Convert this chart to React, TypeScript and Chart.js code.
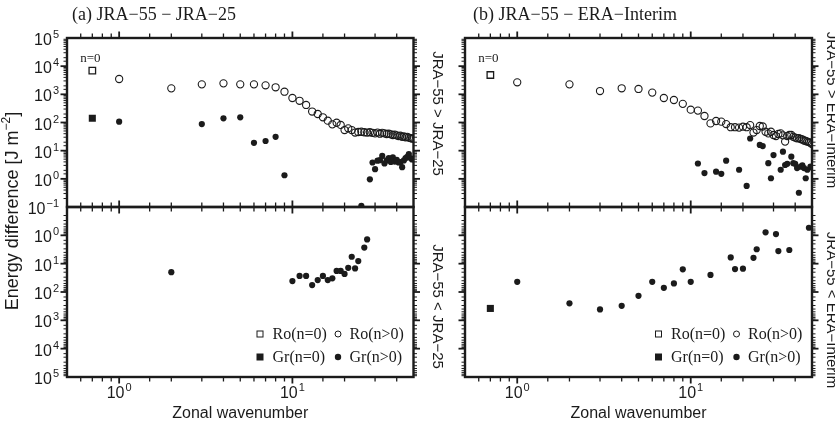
import React, { useEffect, useRef } from 'react';
import { Chart, registerables } from 'chart.js';

Chart.register(...registerables);

// ---------------- data ----------------
const WAVENUMBERS = [
  1, 2, 3, 4, 5, 6, 7, 8, 9, 10,
  11, 12, 13, 14, 15, 16, 17, 18, 19, 20,
  21, 22, 23, 24, 25, 26, 27, 28, 29, 30,
  31, 32, 33, 34, 35, 36, 37, 38, 39, 40,
  41, 42, 43, 44, 45, 46, 47, 48, 49, 50,
];
// position used for the zonal-mean (n=0) column
const N0_X = 0.7;

// (a) JRA-55 - JRA-25 ; signed energy difference [J m-2]
const RO_A_N0 = 6900;
const GR_A_N0 = 141;
const RO_A = [
  3500, 1630, 2260, 2450, 2260, 2260, 2090, 1780, 1240, 740,
  590, 420, 245, 200, 153, 116, 86, 98, 82, 54,
  62, 54, 44, 46, 47, 45, 44, 45, 43, 41,
  44, 40, 43, 41, 39, 40, 38, 36, 37, 35,
  33, 34, 31, 32, 30, 31, 29, 28, 27, 27,
];
const GR_A = [
  107, -20, 88, 141, 153, 19, 22, 31, 1.34, -41,
  -27, -27, -57, -38, -27, -38, -33, -18, -18, -23,
  -14, -5.7, -14.7, -8.1, 0.11, -2.7, -1.4, 0.96, 3.8, 2.2,
  4.4, 4.6, 6.5, 3.5, 4.5, 5.4, 4.0, 5.8, 4.1, 4.7,
  3.8, 3.9, 2.6, 4.5, 5.4, 6.0, 7.6, 5.5, 4.9, 5.0,
];

// (b) JRA-55 - ERA-Interim
const RO_B_N0 = 4860;
const GR_B_N0 = -380;
const RO_B = [
  2670, 2260, 1310, 1640, 1550, 1150, 740, 630, 460, 285,
  265, 170, 93, 113, 107, 88, 68, 68, 66, 71,
  68, 81, 44, 54, 75, 72, 47, 41, 47, 36,
  33, 39, 41, 35, 21, 33, 36, 36, 31, 29,
  27.5, 28, 26, 25, 23, 22, 21, 20, 19, 17,
];
const GR_B = [
  -43.6, -251, -412, -307, -136, -43.6, -71, -50, -15.9, -43.6,
  3.5, 1.6, -25, 1.8, 1.5, 4.4, -6.0, -15.5, 2.1, -15,
  0.56, 27, -6.2, -3.1, 16, 14.5, -0.78, 3.6, 1.05, 7.0,
  -0.9, -3.6, 2.1, 9.2, 3.1, 3.4, -3.3, 6.1, 3.6, 3.4,
  2.4, 0.32, 2.7, 3.0, 2.4, 1.05, 2.1, -0.54, 2.7, 2.5,
];

const PANEL_TITLES = ['(a) JRA\u221255 \u2212 JRA\u221225', '(b) JRA\u221255 \u2212 ERA\u2212Interim'];
const REFERENCE_NAMES = ['JRA\u221225', 'ERA\u2212Interim'];
const LEGEND_LABELS = ['Ro(n=0)', 'Ro(n>0)', 'Gr(n=0)', 'Gr(n>0)'];
const X_TITLE = 'Zonal wavenumber';
const Y_TITLE = 'Energy difference [J m';
const Y_TITLE_SUP = '\u22122';

// ---------------- style ----------------
const INK = '#1b1b1b';
const SANS = '"Liberation Sans", Arial, Helvetica, sans-serif';
const SERIF = '"Liberation Serif", "Times New Roman", serif';
const W = 835;
const H = 425;
const PANEL_X = [
  { left: 67, right: 413.5 },
  { left: 465, right: 812 },
];
const HALF_Y = {
  upper: { top: 38, bottom: 207 },
  lower: { top: 207, bottom: 377 },
};

type Half = 'upper' | 'lower';

function isMajor(v: number) {
  const l = Math.log10(v);
  return Math.abs(l - Math.round(l)) < 1e-6;
}
function expText(v: number) {
  const e = Math.round(Math.log10(v));
  return e < 0 ? '\u2212' + Math.abs(e) : String(e);
}

function drawPower(ctx: CanvasRenderingContext2D, x: number, y: number, v: number, align: 'right' | 'center') {
  const base = 16;
  const sup = 11;
  const e = expText(v);
  ctx.font = `${base}px ${SANS}`;
  const w1 = ctx.measureText('10').width;
  ctx.font = `${sup}px ${SANS}`;
  const w2 = ctx.measureText(e).width;
  const total = w1 + 1 + w2;
  const x0 = align === 'right' ? x - total : x - total / 2;
  ctx.textAlign = 'left';
  ctx.textBaseline = 'alphabetic';
  ctx.font = `${base}px ${SANS}`;
  ctx.fillText('10', x0, y);
  ctx.font = `${sup}px ${SANS}`;
  ctx.fillText(e, x0 + w1 + 1, y - 7);
}

function line(ctx: CanvasRenderingContext2D, x1: number, y1: number, x2: number, y2: number) {
  ctx.beginPath();
  ctx.moveTo(x1, y1);
  ctx.lineTo(x2, y2);
  ctx.stroke();
}

function makePlugin(panel: number, half: Half) {
  return {
    id: 'panelFrame',
    afterDatasetsDraw(chart: any) {
      const ctx: CanvasRenderingContext2D = chart.ctx;
      const a = chart.chartArea;
      const xs = chart.scales.x;
      const ys = chart.scales.y;
      ctx.save();
      ctx.strokeStyle = INK;
      ctx.fillStyle = INK;
      ctx.lineCap = 'butt';

      // x ticks (outward, top & bottom)
      for (const t of xs.ticks) {
        const px = xs.getPixelForValue(t.value);
        if (px <= a.left + 1 || px >= a.right - 1) continue;
        const major = isMajor(t.value);
        const len = major ? 6.5 : 4.5;
        ctx.lineWidth = major ? 1.8 : 1.3;
        line(ctx, px, a.top, px, a.top - len);
        line(ctx, px, a.bottom, px, a.bottom + len);
      }
      // y ticks (outward, left & right)
      for (const t of ys.ticks) {
        const py = ys.getPixelForValue(t.value);
        if (py <= a.top + 1 || py >= a.bottom - 1) continue;
        const major = isMajor(t.value);
        const len = major ? 6.5 : 3.5;
        ctx.lineWidth = major ? 1.8 : 1.0;
        line(ctx, a.left, py, a.left - len, py);
        line(ctx, a.right, py, a.right + len, py);
      }
      // frame
      ctx.lineWidth = 2.4;
      ctx.strokeRect(a.left, a.top, a.right - a.left, a.bottom - a.top);

      // y tick labels on left panel
      if (panel === 0) {
        for (const t of ys.ticks) {
          if (!isMajor(t.value)) continue;
          if (half === 'lower' && t.value < 0.5) continue;
          const py = ys.getPixelForValue(t.value);
          drawPower(ctx, a.left - 8, py + 7, t.value, 'right');
        }
      }

      // side label (rotated)
      const sideText = 'JRA\u221255 ' + (half === 'upper' ? '>' : '<') + ' ' + REFERENCE_NAMES[panel];
      ctx.save();
      ctx.font = `15px ${SANS}`;
      const sx = panel === 0 ? 437 : 831;
      const sy = half === 'upper' ? (panel === 0 ? 113.5 : 110) : (panel === 0 ? 306.5 : 310);
      ctx.translate(sx, sy);
      ctx.rotate(Math.PI / 2);
      ctx.textAlign = 'center';
      ctx.textBaseline = 'middle';
      ctx.fillText(sideText, 0, 0);
      ctx.restore();

      if (half === 'upper') {
        // panel title
        ctx.font = `18px ${SERIF}`;
        ctx.textAlign = 'left';
        ctx.textBaseline = 'alphabetic';
        ctx.fillText(PANEL_TITLES[panel], panel === 0 ? 72 : 473, 20);
        // n=0 marker text
        ctx.font = `13px ${SERIF}`;
        ctx.textAlign = 'center';
        ctx.fillText('n=0', xs.getPixelForValue(N0_X) - 2, 62);
      } else {
        // x tick labels
        for (const t of xs.ticks) {
          if (!isMajor(t.value)) continue;
          const px = xs.getPixelForValue(t.value);
          drawPower(ctx, px, 398, t.value, 'center');
        }
        // x title
        ctx.font = `16px ${SANS}`;
        ctx.textAlign = 'center';
        ctx.textBaseline = 'alphabetic';
        ctx.fillText(X_TITLE, (a.left + a.right) / 2, 418);

        // legend (inside, lower right)
        const r = a.right;
        const rows = [334, 357];
        ctx.font = `16px ${SERIF}`;
        ctx.textAlign = 'left';
        ctx.textBaseline = 'middle';
        // row 1: open symbols
        ctx.lineWidth = 1;
        ctx.strokeRect(r - 156.5, rows[0] - 3, 6, 6);
        ctx.fillText(LEGEND_LABELS[0], r - 141, rows[0] + 1);
        ctx.beginPath();
        ctx.arc(r - 75.5, rows[0], 3, 0, Math.PI * 2);
        ctx.stroke();
        ctx.fillText(LEGEND_LABELS[1], r - 64, rows[0] + 1);
        // row 2: filled symbols
        ctx.fillRect(r - 157, rows[1] - 3.5, 7, 7);
        ctx.fillText(LEGEND_LABELS[2], r - 141, rows[1] + 1);
        ctx.beginPath();
        ctx.arc(r - 75.5, rows[1], 3.2, 0, Math.PI * 2);
        ctx.fill();
        ctx.fillText(LEGEND_LABELS[3], r - 64, rows[1] + 1);

        // y title (once, on lower-left chart)
        if (panel === 0) {
          ctx.save();
          ctx.translate(13, 211);
          ctx.rotate(-Math.PI / 2);
          ctx.textBaseline = 'middle';
          ctx.font = `18px ${SANS}`;
          const w1 = ctx.measureText(Y_TITLE).width;
          ctx.font = `12px ${SANS}`;
          const w2 = ctx.measureText(Y_TITLE_SUP).width;
          ctx.font = `18px ${SANS}`;
          const w3 = ctx.measureText(']').width;
          const total = w1 + w2 + w3;
          const x0 = -total / 2;
          ctx.textAlign = 'left';
          ctx.fillText(Y_TITLE, x0, 0);
          ctx.font = `12px ${SANS}`;
          ctx.fillText(Y_TITLE_SUP, x0 + w1, -6);
          ctx.font = `18px ${SANS}`;
          ctx.fillText(']', x0 + w1 + w2, 0);
          ctx.restore();
        }
      }
      ctx.restore();
    },
  };
}

function buildDatasets(panel: number, half: Half) {
  const ro = panel === 0 ? RO_A : RO_B;
  const gr = panel === 0 ? GR_A : GR_B;
  const roN0 = panel === 0 ? RO_A_N0 : RO_B_N0;
  const grN0 = panel === 0 ? GR_A_N0 : GR_B_N0;
  const keep = (v: number) => (half === 'upper' ? v > 0 : v < 0);
  const pts = (vals: number[]) =>
    WAVENUMBERS.map((k, i) => ({ x: k, y: vals[i] }))
      .filter((p) => keep(p.y))
      .map((p) => ({ x: p.x, y: Math.abs(p.y) }));
  const n0 = (v: number) => (keep(v) ? [{ x: N0_X, y: Math.abs(v) }] : []);
  return [
    {
      label: LEGEND_LABELS[0],
      data: n0(roN0),
      pointStyle: 'rect',
      pointRadius: 4.6,
      borderWidth: 1.3,
      borderColor: INK,
      backgroundColor: 'rgba(0,0,0,0)',
    },
    {
      label: LEGEND_LABELS[1],
      data: pts(ro),
      pointStyle: 'circle',
      pointRadius: 3.6,
      borderWidth: 1.1,
      borderColor: INK,
      backgroundColor: 'rgba(0,0,0,0)',
    },
    {
      label: LEGEND_LABELS[2],
      data: n0(grN0),
      pointStyle: 'rect',
      pointRadius: 5,
      borderWidth: 0,
      borderColor: INK,
      backgroundColor: INK,
    },
    {
      label: LEGEND_LABELS[3],
      data: pts(gr),
      pointStyle: 'circle',
      pointRadius: 3.1,
      borderWidth: 0,
      borderColor: INK,
      backgroundColor: INK,
    },
  ];
}

function makeConfig(panel: number, half: Half): any {
  const px = PANEL_X[panel];
  const hy = HALF_Y[half];
  return {
    type: 'scatter',
    data: { datasets: buildDatasets(panel, half) },
    plugins: [makePlugin(panel, half)],
    options: {
      responsive: false,
      animation: false,
      devicePixelRatio: 1,
      events: [],
      layout: {
        padding: {
          left: px.left,
          right: W - px.right,
          top: hy.top,
          bottom: H - hy.bottom,
        },
      },
      plugins: {
        legend: { display: false },
        tooltip: { enabled: false },
        title: { display: false },
      },
      scales: {
        x: {
          type: 'logarithmic',
          min: 0.5,
          max: 50,
          display: false,
          ticks: { display: false, autoSkip: false },
        },
        y: {
          type: 'logarithmic',
          min: 0.1,
          max: 100000,
          reverse: half === 'lower',
          display: false,
          ticks: { display: false, autoSkip: false },
        },
      },
    },
  };
}

const LAYERS: { panel: number; half: Half }[] = [
  { panel: 0, half: 'upper' },
  { panel: 0, half: 'lower' },
  { panel: 1, half: 'upper' },
  { panel: 1, half: 'lower' },
];

export default function App() {
  const r0 = useRef<HTMLCanvasElement>(null);
  const r1 = useRef<HTMLCanvasElement>(null);
  const r2 = useRef<HTMLCanvasElement>(null);
  const r3 = useRef<HTMLCanvasElement>(null);
  const refs = [r0, r1, r2, r3];

  useEffect(() => {
    const charts = LAYERS.map((l, i) => new Chart(refs[i].current as HTMLCanvasElement, makeConfig(l.panel, l.half)));
    return () => charts.forEach((c) => c.destroy());
  }, []);

  return (
    <div style={{ position: 'fixed', left: 0, top: 0, width: W, height: H, background: '#ffffff', overflow: 'hidden' }}>
      {refs.map((r, i) => (
        <canvas
          key={i}
          ref={r}
          width={W}
          height={H}
          style={{ position: 'absolute', left: 0, top: 0, width: W, height: H }}
        />
      ))}
    </div>
  );
}
